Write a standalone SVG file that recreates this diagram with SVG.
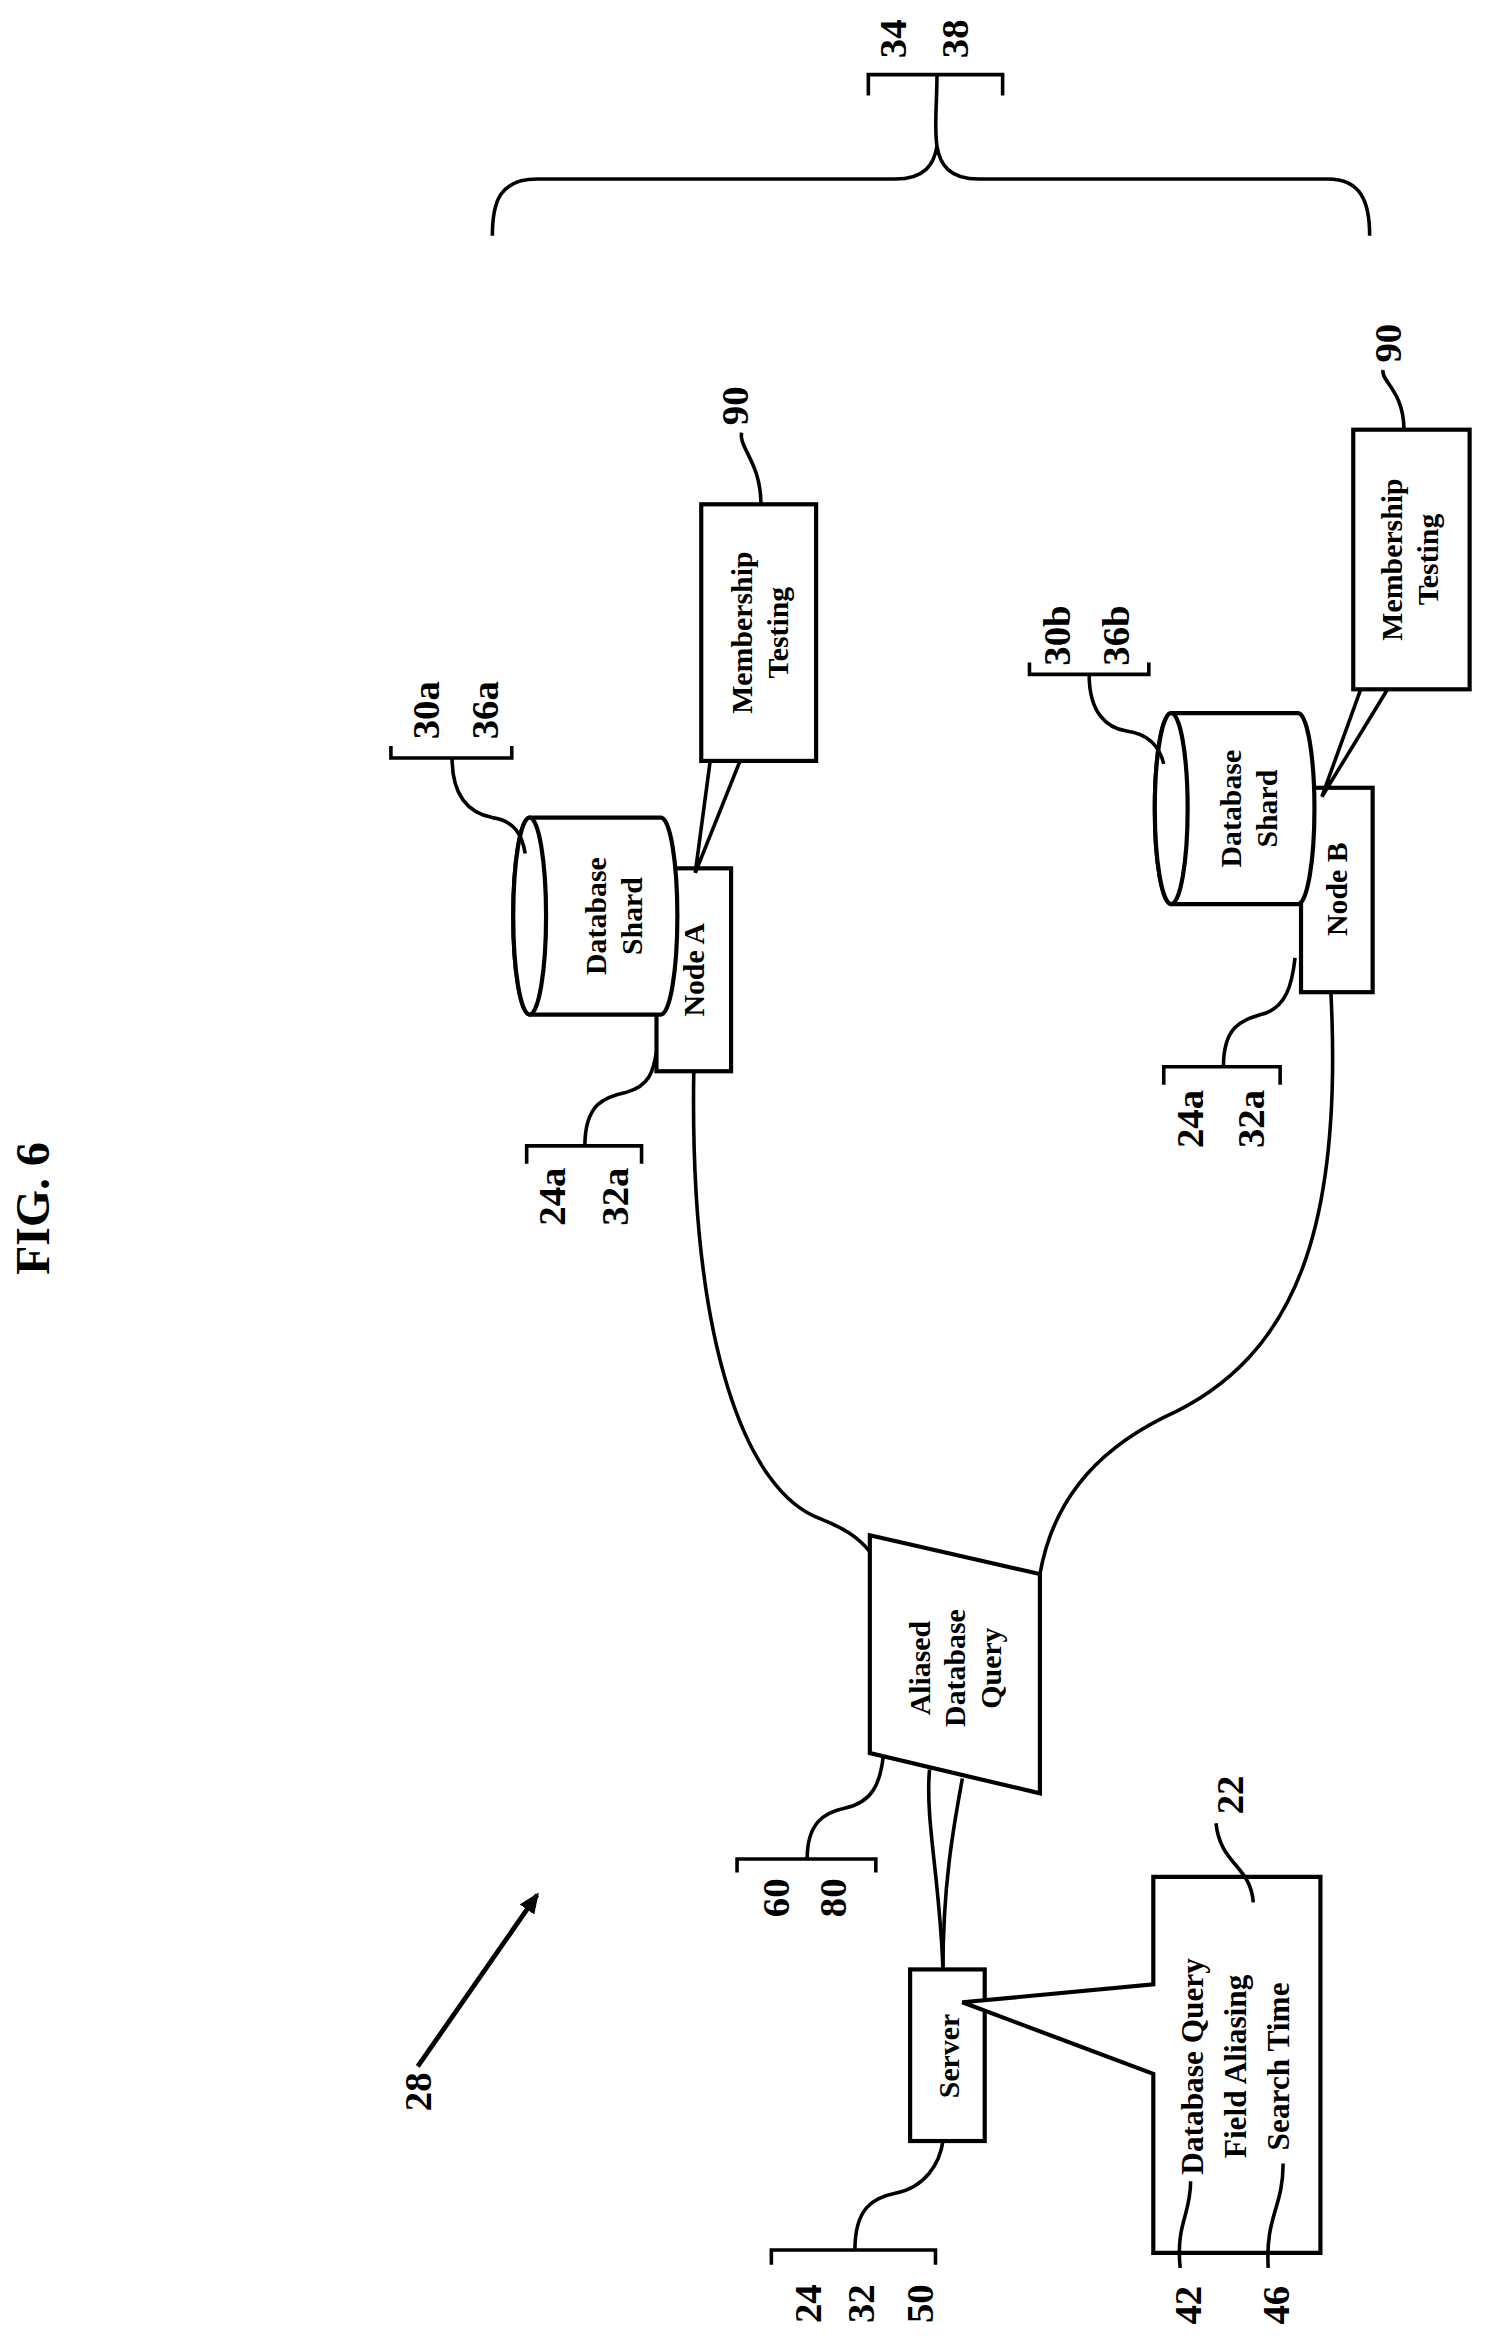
<svg xmlns="http://www.w3.org/2000/svg" width="1492" height="2340" viewBox="0 0 1492 2340">
<style>
.s{fill:none;stroke:#000;stroke-width:2.4}
.b{fill:#fff;stroke:#000;stroke-width:2.8}
text{font-family:"Liberation Serif",serif;font-weight:bold;fill:#000;text-anchor:middle}
.l{font-size:26px}
.t{font-size:20px}
</style>
<defs><marker id="ah" markerWidth="14" markerHeight="12" refX="12" refY="6" orient="auto" markerUnits="userSpaceOnUse"><path d="M0,0 L14,6 L0,12 z" fill="#000"/></marker></defs>
<rect width="1492" height="2340" fill="#fff"/>
<g transform="scale(1.492)">
<g id="connectors">
<path class="s" d="M465,718 C462,900 500,1000 550,1018 C565,1024 575,1030 583,1040"/>
<path class="s" d="M892,665 C900,820 870,910 780,950 C730,975 705,1010 697,1055"/>
<path class="s" d="M632,1320 C630,1260 620,1220 623,1186"/>
<path class="s" d="M632,1320 C632,1260 640,1220 645,1192"/>
<path class="s" style="stroke-width:3.2" d="M280,1385 L360,1270" marker-end="url(#ah)"/>
</g>
<g id="fig"><text transform="translate(22,810) rotate(-90)" style="font-size:32px" y="11">FIG. 6</text></g>
<g id="brace-top">
<path class="s" d="M330,158 C330,135 335,120 360,120 L600,120 C620,120 626,110 628,98 C630,110 636,120 656,120 L890,120 C912,120 918,135 918,158"/>
<path class="s" d="M582,64 L582,50 L672,50 L672,64 M628,50 C628,70 626,85 628,98"/>
<text class="l" transform="translate(598,26) rotate(-90)" y="9">34</text>
<text class="l" transform="translate(640,26) rotate(-90)" y="9">38</text>
</g>
<g id="nodeA">
<rect class="b" x="440" y="582" width="50" height="136"/>
<text class="t" transform="translate(465,650) rotate(-90)" y="7">Node A</text>
</g>
<g id="shardA">
<path class="b" d="M355,548 L443,548 A11,66 0 0 1 443,680 L355,680 A11,66 0 0 1 355,548 Z"/>
<ellipse class="b" cx="355" cy="614" rx="11" ry="66"/>
<text class="t" transform="translate(410,614) rotate(-90)"><tspan x="0" y="-4">Database</tspan><tspan x="0" y="20">Shard</tspan></text>
</g>
<g id="memA">
<rect class="b" x="470" y="338" width="77" height="172"/>
<path class="s" d="M476,510 L466,585 L496,510"/>
<text class="t" transform="translate(508,424) rotate(-90)"><tspan x="0" y="-4">Membership</tspan><tspan x="0" y="20">Testing</tspan></text>
<path class="s" d="M510,338 C510,310 495,300 497,290"/>
<text class="l" transform="translate(492,272) rotate(-90)" y="9">90</text>
</g>
<g id="lab30a">
<text class="l" transform="translate(285,476) rotate(-90)" y="9">30a</text>
<text class="l" transform="translate(325,476) rotate(-90)" y="9">36a</text>
<path class="s" d="M262,500 L262,508 L343,508 L343,500 M303,508 C303,535 315,545 330,548 C345,550 350,560 352,572"/>
</g>
<g id="lab24aA">
<text class="l" transform="translate(370,802) rotate(-90)" y="9">24a</text>
<text class="l" transform="translate(412,802) rotate(-90)" y="9">32a</text>
<path class="s" d="M353,780 L353,768 L430,768 L430,780 M392,768 C392,740 405,735 420,732 C435,728 438,718 440,705"/>
</g>
<g id="nodeB">
<rect class="b" x="872" y="528" width="48" height="137"/>
<text class="t" transform="translate(896,596) rotate(-90)" y="7">Node B</text>
</g>
<g id="shardB">
<path class="b" d="M785,478 L870,478 A11,64 0 0 1 870,606 L785,606 A11,64 0 0 1 785,478 Z"/>
<ellipse class="b" cx="785" cy="542" rx="11" ry="64"/>
<text class="t" transform="translate(836,542) rotate(-90)"><tspan x="0" y="-4">Database</tspan><tspan x="0" y="20">Shard</tspan></text>
</g>
<g id="memB">
<rect class="b" x="907" y="288" width="78" height="174"/>
<path class="s" d="M912,462 L886,534 L930,462"/>
<text class="t" transform="translate(944,375) rotate(-90)"><tspan x="0" y="-4">Membership</tspan><tspan x="0" y="20">Testing</tspan></text>
<path class="s" d="M941,288 C941,262 925,255 927,248"/>
<text class="l" transform="translate(930,230) rotate(-90)" y="9">90</text>
</g>
<g id="lab30b">
<text class="l" transform="translate(708,426) rotate(-90)" y="9">30b</text>
<text class="l" transform="translate(748,426) rotate(-90)" y="9">36b</text>
<path class="s" d="M690,444 L690,452 L770,452 L770,444 M730,452 C730,478 742,488 755,490 C770,492 777,500 780,512"/>
</g>
<g id="lab24aB">
<text class="l" transform="translate(797,750) rotate(-90)" y="9">24a</text>
<text class="l" transform="translate(838,750) rotate(-90)" y="9">32a</text>
<path class="s" d="M780,727 L780,715 L858,715 L858,727 M820,715 C820,688 832,684 845,680 C862,676 866,660 868,642"/>
</g>
<g id="aliased">
<path class="b" d="M583,1029 L697,1055 L697,1202 L583,1175 Z"/>
<text class="t" transform="translate(640,1118) rotate(-90)"><tspan x="0" y="-17">Aliased</tspan><tspan x="0" y="7">Database</tspan><tspan x="0" y="31">Query</tspan></text>
</g>
<g id="lab60">
<text class="l" transform="translate(520,1272) rotate(-90)" y="9">60</text>
<text class="l" transform="translate(558,1272) rotate(-90)" y="9">80</text>
<path class="s" d="M494,1255 L494,1246 L587,1246 L587,1255 M541,1246 C541,1222 552,1215 566,1212 C585,1208 590,1195 592,1177"/>
</g>
<g id="server">
<rect class="b" x="610" y="1320" width="50" height="115"/>
<text class="t" transform="translate(636,1378) rotate(-90)" y="7">Server</text>
</g>
<g id="lab24">
<text class="l" transform="translate(541,1544) rotate(-90)" y="9">24</text>
<text class="l" transform="translate(577,1544) rotate(-90)" y="9">32</text>
<text class="l" transform="translate(616,1544) rotate(-90)" y="9">50</text>
<path class="s" d="M517,1518 L517,1508 L627,1508 L627,1518 M573,1508 C573,1480 585,1473 600,1470 C620,1466 630,1450 632,1435"/>
</g>
<g id="callout22">
<path class="b" d="M773,1258 L885,1258 L885,1510 L773,1510 L773,1390 L645,1342 L773,1330 Z"/>
<text class="t" transform="translate(828,1385) rotate(-90)" style="font-size:21px"><tspan x="0" y="-22">Database Query</tspan><tspan x="0" y="7">Field Aliasing</tspan><tspan x="0" y="36">Search Time</tspan></text>
<path class="s" d="M815,1222 C818,1250 838,1250 840,1275"/>
<text class="l" transform="translate(824,1203) rotate(-90)" y="9">22</text>
<path class="s" d="M791,1520 C788,1490 798,1485 798,1462"/>
<text class="l" transform="translate(796,1545) rotate(-90)" y="9">42</text>
<path class="s" d="M850,1520 C848,1485 860,1480 860,1450"/>
<text class="l" transform="translate(855,1545) rotate(-90)" y="9">46</text>
</g>
<g id="lab28"><text class="l" transform="translate(280,1402) rotate(-90)" y="9">28</text></g>
</g>
</svg>
